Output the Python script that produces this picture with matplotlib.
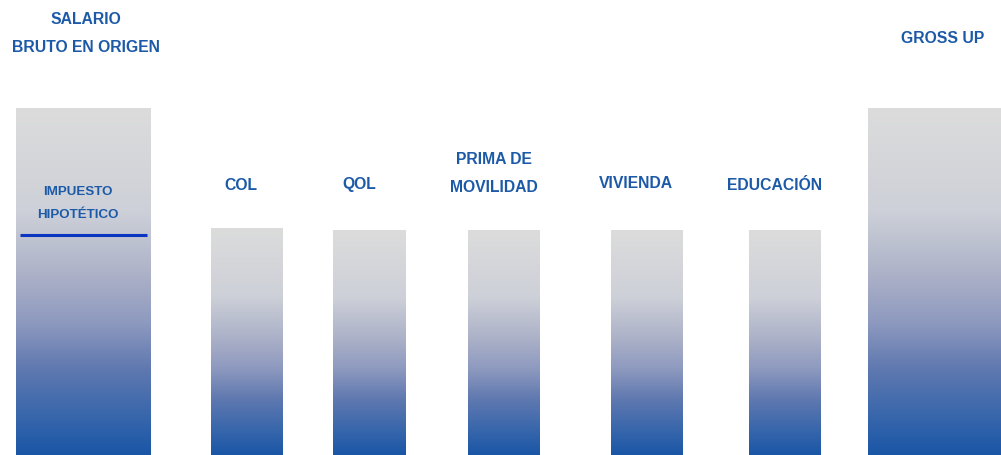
import matplotlib
matplotlib.use("Agg")
import matplotlib.pyplot as plt
import numpy as np
from matplotlib.colors import LinearSegmentedColormap

# ── data ─────────────────────────────────────────────────────────────
categories = ["SALARIO\nBRUTO EN ORIGEN", "COL", "QOL", "PRIMA DE\nMOVILIDAD",
              "VIVIENDA", "EDUCACIÓN", "GROSS UP"]
values = [100, 65.4, 64.8, 64.8, 64.8, 64.8, 100]
tax_label = "IMPUESTO\nHIPOTÉTICO"
tax_level = 63.4  # hypothetical tax line inside the first bar

# ── layout (pixel-like units on a 1001 x 455 canvas) ─────────────────
W, H = 1001, 455
centers = [83.5, 247, 369.5, 504, 647, 785, 934.5]
widths = [135, 72, 73, 72, 72, 72, 133]
label_x = [85.5, 241, 359, 494, 636, 775, 943]
label_top = [19, 185, 185, 160, 183, 186, 38]  # pixel row of first line
LINE_GAP = 28
Y_TOP = H / 347 * 100  # 100 units == 347 px

BLUE_TXT = "#1c5aa8"
# colour stops measured down the bar (0 = top, 1 = base)
cmap = LinearSegmentedColormap.from_list("grad", [
    (0.0, "#dcdcdc"), (0.3, "#cdd0d8"), (0.5, "#a8aec6"), (0.62, "#8d99bf"),
    (0.75, "#6079b0"), (0.9, "#3565ab"), (1.0, "#1a56a6")])

plt.rcParams["font.family"] = ["Liberation Sans", "DejaVu Sans"]


def py(pix):
    return (H - pix) / H * Y_TOP


fig = plt.figure(figsize=(W / 100, H / 100), dpi=100)
ax = fig.add_axes([0, 0, 1, 1])
ax.set_xlim(0, W)
ax.set_ylim(0, Y_TOP)
ax.axis("off")

# row 0 is drawn at the top of each bar
grad = np.linspace(0, 1, 256).reshape(-1, 1)

for cx, w, v in zip(centers, widths, values):
    ax.imshow(grad, cmap=cmap, vmin=0, vmax=1, aspect="auto",
              extent=(cx - w / 2, cx + w / 2, 0, v), interpolation="bicubic", zorder=1)

for lx, lab, ly in zip(label_x, categories, label_top):
    for i, line in enumerate(lab.split("\n")):
        ax.text(lx, py(ly + i * LINE_GAP), line, ha="center", va="center",
                fontsize=11.3, fontweight="bold", color=BLUE_TXT, zorder=3)

# hypothetical tax marker in the first bar
ax.plot([centers[0] - 63.5, centers[0] + 63], [tax_level, tax_level],
        color="#0a35c0", lw=2.2, solid_capstyle="butt", zorder=3)
for i, line in enumerate(tax_label.split("\n")):
    ax.text(78, py(192 + i * 23), line, ha="center", va="center",
            fontsize=9.6, fontweight="bold", color=BLUE_TXT, zorder=3)

ax.set_xlim(0, W)
ax.set_ylim(0, Y_TOP)
fig.savefig("out.png", dpi=100, facecolor="white")
